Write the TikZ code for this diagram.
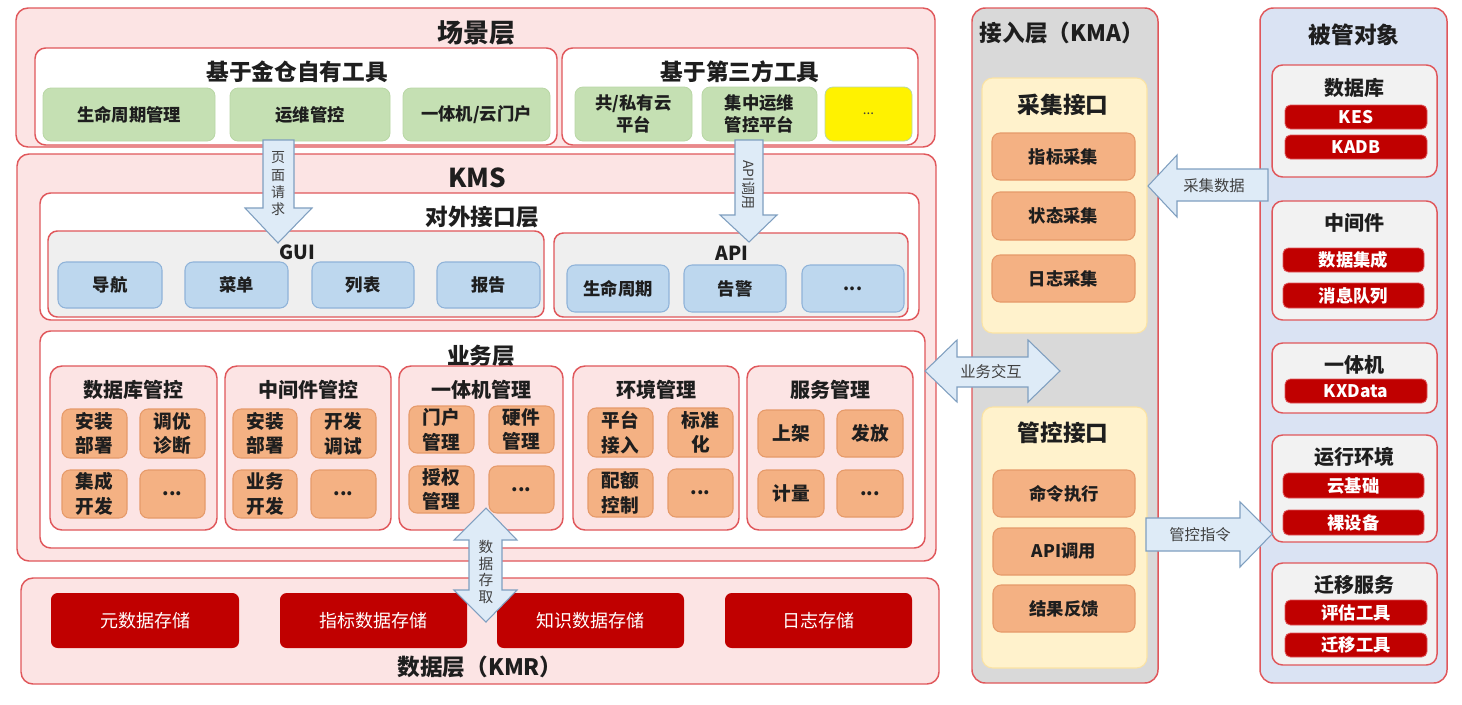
\documentclass[tikz,border=0pt]{standalone}
\usepackage{fontspec}
\setmainfont{Noto Sans CJK SC}
\definecolor{redline}{HTML}{E0575B}
\definecolor{pinkbg}{HTML}{FCE4E4}
\definecolor{greenbox}{HTML}{C5E0B3}
\definecolor{greenline}{HTML}{B9D7A5}
\definecolor{graybg}{HTML}{EFEFEF}
\definecolor{bluebox}{HTML}{BDD7EE}
\definecolor{blueline}{HTML}{8FB3D9}
\definecolor{orangebox}{HTML}{F4B183}
\definecolor{orangeline}{HTML}{E69A6A}
\definecolor{darkred}{HTML}{C00000}
\definecolor{kmagray}{HTML}{D9D9D9}
\definecolor{lightyellow}{HTML}{FFF2CC}
\definecolor{yellowline}{HTML}{FBE3A4}
\definecolor{objblue}{HTML}{DAE3F3}
\definecolor{objsubfill}{HTML}{F2F2F2}
\definecolor{arrowfill}{HTML}{DEEBF7}
\definecolor{arrowline}{HTML}{7F9FC0}
\definecolor{txt}{HTML}{1E1E1E}
\definecolor{arrowtext}{HTML}{404040}
\newcommand{\mybox}[7]{\node[#6, minimum width={(#4-#2)*0.75pt}, minimum height={(#5-#3)*0.75pt}] (#1) at ({(#2+#4)/2},{(#3+#5)/2}) {#7};}
\tikzset{
 base/.style={align=center, inner sep=0pt, outer sep=0pt, text=txt},
 layer/.style={base, draw=redline, fill=pinkbg, line width=1.1pt, rounded corners=9pt},
 inner/.style={base, draw=redline, fill=white, line width=1.1pt, rounded corners=8pt},
 grayinner/.style={base, draw=redline, fill=graybg, line width=1.1pt, rounded corners=7pt},
 subpink/.style={base, draw=redline, fill=pinkbg, line width=1.1pt, rounded corners=9pt},
 greenitem/.style={base, draw=greenline, fill=greenbox, line width=0.6pt, rounded corners=6pt, font=\bfseries\fontsize{13}{16.5}\selectfont},
 yellowitem/.style={base, draw=greenline, fill=yellow, line width=0.6pt, rounded corners=6pt, text=arrowtext, font=\fontsize{10}{12}\selectfont},
 blueitem/.style={base, draw=blueline, fill=bluebox, line width=0.8pt, rounded corners=6pt, font=\bfseries\fontsize{13}{15}\selectfont},
 orangeitem/.style={base, draw=orangeline, fill=orangebox, line width=0.8pt, rounded corners=6pt, font=\bfseries\fontsize{14}{18.5}\selectfont},
 reditem/.style={base, fill=darkred, rounded corners=5pt, text=white, font=\fontsize{13.5}{15}\selectfont},
 objitem/.style={base, fill=darkred, draw=redline, line width=0.6pt, rounded corners=4pt, text=white, font=\bfseries\fontsize{13}{14}\selectfont},
 kmabox/.style={base, draw=redline, fill=kmagray, line width=1.1pt, rounded corners=10pt},
 ybox/.style={base, draw=yellowline, fill=lightyellow, line width=0.8pt, rounded corners=8pt},
 kmaitem/.style={orangeitem, font=\bfseries\fontsize{13}{15}\selectfont},
 objbox/.style={base, draw=redline, fill=objblue, line width=1.1pt, rounded corners=10pt},
 objsub/.style={base, draw=redline, fill=objsubfill, line width=1.1pt, rounded corners=8pt},
 bigT/.style={base, font=\bfseries\fontsize{19.5}{21}\selectfont},
 secT/.style={base, font=\bfseries\fontsize{17}{19}\selectfont},
 smallT/.style={base, font=\bfseries\fontsize{15}{17}\selectfont},
 latT/.style={base, font=\bfseries\fontsize{14.5}{16}\selectfont},
 arr/.style={draw=arrowline, fill=arrowfill, line width=0.8pt, line join=miter},
 arrT/.style={base, font=\fontsize{10.5}{13}\selectfont, text=arrowtext},
}
\begin{document}
\begin{tikzpicture}[x=0.75pt,y=-0.75pt]
\useasboundingbox (0,0) rectangle (1462,704);
% ---------------- scene layer
\mybox{scene}{16}{8}{935}{147}{layer}{}
\node[bigT] (sceneT) at (476,33) {场景层};
\mybox{own}{35}{48}{557}{145}{inner}{}
\node[secT] (ownT) at (297,72) {基于金仓自有工具};
\mybox{g1}{43}{88}{215}{141}{greenitem}{生命周期管理}
\mybox{g2}{230}{88}{390}{141}{greenitem}{运维管控}
\mybox{g3}{403}{88}{550}{141}{greenitem}{一体机/云门户}
\mybox{third}{562}{48}{918}{145}{inner}{}
\node[secT] (thirdT) at (740,72) {基于第三方工具};
\mybox{g4}{575}{87}{692}{141}{greenitem}{共/私有云\\平台}
\mybox{g5}{702}{87}{817}{141}{greenitem}{集中运维\\管控平台}
\mybox{g6}{825}{87}{912}{141}{yellowitem}{...}
% ---------------- KMS
\mybox{kms}{17}{154}{936}{561}{layer}{}
\node[bigT] (kmsT) at (477,178) {KMS};
\mybox{ext}{40}{193}{919}{320}{inner}{}
\node[secT] (extT) at (482,217) {对外接口层};
\mybox{gui}{48}{231}{544}{317}{grayinner}{}
\node[latT] (guiT) at (297,252) {GUI};
\mybox{b1}{58}{262}{162}{308}{blueitem}{导航}
\mybox{b2}{185}{262}{288}{308}{blueitem}{菜单}
\mybox{b3}{312}{262}{414}{308}{blueitem}{列表}
\mybox{b4}{437}{262}{540}{308}{blueitem}{报告}
\mybox{api}{554}{233}{908}{317}{grayinner}{}
\node[latT] (apiT) at (732,253) {API};
\mybox{b5}{567}{265}{669}{312}{blueitem}{生命周期}
\mybox{b6}{684}{265}{786}{312}{blueitem}{告警}
\mybox{b7}{802}{265}{904}{312}{blueitem}{...}
% business layer
\mybox{biz}{40}{331}{925}{548}{inner}{}
\node[secT] (bizT) at (481,356) {业务层};
\mybox{sa}{50}{366}{217}{530}{subpink}{}
\node[smallT] (saT) at (133,390) {数据库管控};
\mybox{a1}{62}{409}{127}{458}{orangeitem}{安装\\部署}
\mybox{a2}{140}{409}{205}{458}{orangeitem}{调优\\诊断}
\mybox{a3}{62}{470}{127}{518}{orangeitem}{集成\\开发}
\mybox{a4}{140}{470}{205}{518}{orangeitem}{...}
\mybox{sb}{225}{366}{391}{530}{subpink}{}
\node[smallT] (sbT) at (308,390) {中间件管控};
\mybox{c1}{233}{409}{297}{458}{orangeitem}{安装\\部署}
\mybox{c2}{311}{409}{376}{458}{orangeitem}{开发\\调试}
\mybox{c3}{233}{470}{297}{518}{orangeitem}{业务\\开发}
\mybox{c4}{311}{470}{376}{518}{orangeitem}{...}
\mybox{sc}{399}{366}{563}{530}{subpink}{}
\node[smallT] (scT) at (481,390) {一体机管理};
\mybox{d1}{409}{406}{474}{453}{orangeitem}{门户\\管理}
\mybox{d2}{489}{406}{554}{453}{orangeitem}{硬件\\管理}
\mybox{d3}{409}{466}{474}{513}{orangeitem}{授权\\管理}
\mybox{d4}{489}{466}{554}{513}{orangeitem}{...}
\mybox{sd}{573}{366}{739}{530}{subpink}{}
\node[smallT] (sdT) at (656,390) {环境管理};
\mybox{e1}{588}{408}{653}{457}{orangeitem}{平台\\接入}
\mybox{e2}{668}{408}{733}{457}{orangeitem}{标准\\化}
\mybox{e3}{588}{469}{653}{517}{orangeitem}{配额\\控制}
\mybox{e4}{668}{469}{733}{517}{orangeitem}{...}
\mybox{se}{747}{366}{913}{530}{subpink}{}
\node[smallT] (seT) at (830,390) {服务管理};
\mybox{f1}{758}{410}{824}{457}{orangeitem}{上架}
\mybox{f2}{837}{410}{903}{457}{orangeitem}{发放}
\mybox{f3}{758}{470}{824}{517}{orangeitem}{计量}
\mybox{f4}{837}{470}{903}{517}{orangeitem}{...}
% ---------------- data layer
\mybox{data}{21}{578}{939}{684}{layer}{}
\mybox{r1}{51}{593}{239}{648}{reditem}{元数据存储}
\mybox{r2}{280}{593}{467}{648}{reditem}{指标数据存储}
\mybox{r3}{497}{593}{684}{648}{reditem}{知识数据存储}
\mybox{r4}{725}{593}{912}{648}{reditem}{日志存储}
\node[secT] (dataT) at (480,667) {数据层（KMR）};
% ---------------- KMA
\mybox{kma}{972}{8}{1158}{683}{kmabox}{}
\node[secT] (kmaT) at (1062,33) {接入层（KMA）};
\mybox{coll}{982}{78}{1147}{333}{ybox}{}
\node[secT] (collT) at (1063,105) {采集接口};
\mybox{k1}{992}{133}{1135}{180}{kmaitem}{指标采集}
\mybox{k2}{992}{192}{1135}{240}{kmaitem}{状态采集}
\mybox{k3}{992}{255}{1135}{302}{kmaitem}{日志采集}
\mybox{ctrl}{982}{407}{1147}{668}{ybox}{}
\node[secT] (ctrlT) at (1063,433) {管控接口};
\mybox{k4}{993}{470}{1135}{517}{kmaitem}{命令执行}
\mybox{k5}{993}{528}{1135}{575}{kmaitem}{API调用}
\mybox{k6}{993}{585}{1135}{632}{kmaitem}{结果反馈}
% ---------------- managed objects
\mybox{obj}{1260}{8}{1447}{683}{objbox}{}
\node[secT] (objT) at (1354,35) {被管对象};
\mybox{o1}{1272}{65}{1437}{177}{objsub}{}
\node[smallT] (o1T) at (1354,88) {数据库};
\mybox{o1a}{1285}{105}{1427}{129}{objitem}{KES}
\mybox{o1b}{1285}{135}{1427}{159}{objitem}{KADB}
\mybox{o2}{1272}{201}{1437}{320}{objsub}{}
\node[smallT] (o2T) at (1354,223) {中间件};
\mybox{o2a}{1283}{248}{1424}{272}{objitem}{数据集成}
\mybox{o2b}{1283}{283}{1424}{308}{objitem}{消息队列}
\mybox{o3}{1272}{343}{1437}{413}{objsub}{}
\node[smallT] (o3T) at (1354,365) {一体机};
\mybox{o3a}{1285}{379}{1427}{403}{objitem}{KXData}
\mybox{o4}{1272}{435}{1437}{542}{objsub}{}
\node[smallT] (o4T) at (1354,457) {运行环境};
\mybox{o4a}{1283}{473}{1424}{498}{objitem}{云基础}
\mybox{o4b}{1283}{510}{1424}{535}{objitem}{裸设备}
\mybox{o5}{1272}{563}{1437}{665}{objsub}{}
\node[smallT] (o5T) at (1354,585) {迁移服务};
\mybox{o5a}{1285}{600}{1427}{625}{objitem}{评估工具}
\mybox{o5b}{1285}{633}{1427}{657}{objitem}{迁移工具}
% ---------------- block arrows
\draw[arr] (263,140) -- (294,140) -- (294,208) -- (312,208) -- (278,243) -- (245,208) -- (263,208) -- cycle;
\node[arrT] (pageT) at (278,184) {页\\面\\请\\求};
\draw[arr] (735,140) -- (763,140) -- (763,215) -- (777,215) -- (749,242) -- (720,215) -- (735,215) -- cycle;
\node[arrT, rotate=-90] (apiCallT) at (749,185) {API调用};
\draw[arr] (486,508) -- (517,540) -- (502,540) -- (502,590) -- (517,590) -- (486,622) -- (454,590) -- (469,590) -- (469,540) -- (454,540) -- cycle;
\node[arrT, font=\fontsize{11}{12.3}\selectfont] (accT) at (486,572) {数\\据\\存\\取};
\draw[arr] (925,371) -- (957,340) -- (957,357) -- (1028,357) -- (1028,340) -- (1060,371) -- (1028,402) -- (1028,387) -- (957,387) -- (957,402) -- cycle;
\node[arrT, font=\fontsize{11.5}{13}\selectfont] (bizxT) at (991,372) {业务交互};
\draw[arr] (1148,186) -- (1177,155) -- (1177,169) -- (1268,169) -- (1268,201) -- (1177,201) -- (1177,217) -- cycle;
\node[arrT, font=\fontsize{11.5}{13}\selectfont] (collectT) at (1214,186) {采集数据};
\draw[arr] (1146,518) -- (1240,518) -- (1240,502) -- (1272,534) -- (1240,567) -- (1240,551) -- (1146,551) -- cycle;
\node[arrT, font=\fontsize{11.5}{13}\selectfont] (cmdT) at (1200,535) {管控指令};
\end{tikzpicture}
\end{document}
